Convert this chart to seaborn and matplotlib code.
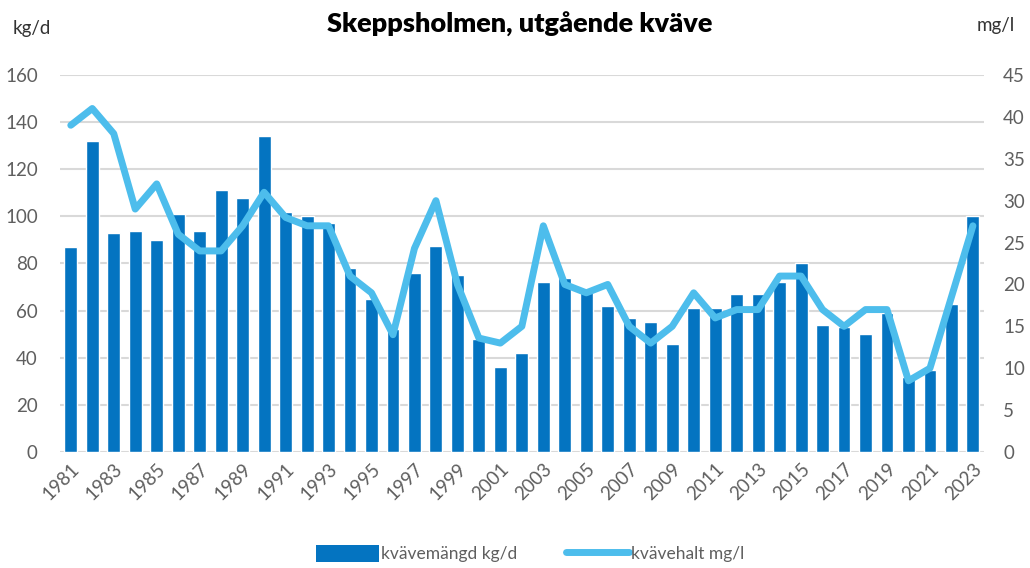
import matplotlib
matplotlib.use("Agg")
import matplotlib.pyplot as plt
import numpy as np
import pandas as pd
import seaborn as sns
from matplotlib.patches import Patch
from matplotlib.lines import Line2D

# data
years = list(range(1981, 2024))
kg_per_day = [87, 132, 93, 94, 90, 101, 94, 111, 108, 134,
              102, 100, 97, 78, 65, 52, 76, 87.5, 75, 48,
              36, 42, 72, 74, 68, 62, 57, 55, 46, 61,
              61, 67, 67, 72, 80, 54, 53, 50, 59, 32,
              35, 63, 100]
mg_per_l = [39, 41, 38, 29, 32, 26, 24, 24, 27, 31,
            28, 27, 27, 21, 19, 14, 24.3, 30, 20, 13.6,
            13, 15, 27, 20, 19, 20, 15, 13, 15, 19,
            16, 17, 17, 21, 21, 17, 15, 17, 17, 8.5,
            10, 18.5, 27]

bar_color = "#0474C1"
line_color = "#4DBDEC"
grey = "#5f5f5f"

df = pd.DataFrame({"year": [str(y) for y in years], "kg": kg_per_day, "mg": mg_per_l})

sns.set_theme(style="white")
plt.rcParams["font.family"] = ["Lato", "DejaVu Sans"]

fig = plt.figure(figsize=(10.3, 5.68), dpi=100)
ax = fig.add_axes([0.0583, 0.2042, 0.8967, 0.6638])

sns.barplot(data=df, x="year", y="kg", color=bar_color, width=0.6,
            saturation=1, ax=ax, zorder=2)
ax.set_ylim(0, 160)
ax.set_yticks(range(0, 161, 20))
ax.set_xlim(-0.5, len(years) - 0.5)
ax.grid(axis="y", color="#D9D9D9", linewidth=1.5, zorder=0)
ax.set_axisbelow(True)
for s in ax.spines.values():
    s.set_visible(False)
ax.set_xlabel("")
ax.set_ylabel("")
ax.tick_params(axis="both", length=0, labelsize=13.5, labelcolor=grey)
ax.set_xticks(range(0, len(years), 2))
ax.set_xticklabels([str(y) for y in years[::2]], rotation=45, ha="right",
                   rotation_mode="anchor")
ax.tick_params(axis="x", pad=6)
ax.tick_params(axis="y", pad=16)

ax2 = ax.twinx()
sns.lineplot(x=np.arange(len(years)), y=mg_per_l, color=line_color,
             linewidth=5, ax=ax2, solid_joinstyle="round",
             solid_capstyle="round")
ax2.set_ylim(0, 45)
ax2.set_yticks(range(0, 46, 5))
for s in ax2.spines.values():
    s.set_visible(False)
ax2.tick_params(axis="y", length=0, labelsize=13.5, labelcolor=grey, pad=14)
ax2.grid(False)

fig.text(0.505, 0.957, "Skeppsholmen, utgående kväve", ha="center", va="center",
         fontsize=19.5, fontweight="heavy", color="black")
fig.text(0.012, 0.95, "kg/d", ha="left", va="center", fontsize=13.5, color="#333333")
fig.text(0.985, 0.955, "mg/l", ha="right", va="center", fontsize=13.5, color="#333333")

handles = [Patch(facecolor=bar_color, edgecolor="none"),
           Line2D([0], [0], color=line_color, linewidth=5, solid_capstyle="round")]
fig.legend(handles, ["kvävemängd kg/d", "kvävehalt mg/l"], loc="center",
           bbox_to_anchor=(0.515, 0.025), ncol=2, frameon=False, fontsize=12.5,
           handlelength=3.6, handleheight=1.1, handletextpad=0.15, columnspacing=2.8,
           labelcolor=grey)

fig.savefig("out.png", dpi=100)
